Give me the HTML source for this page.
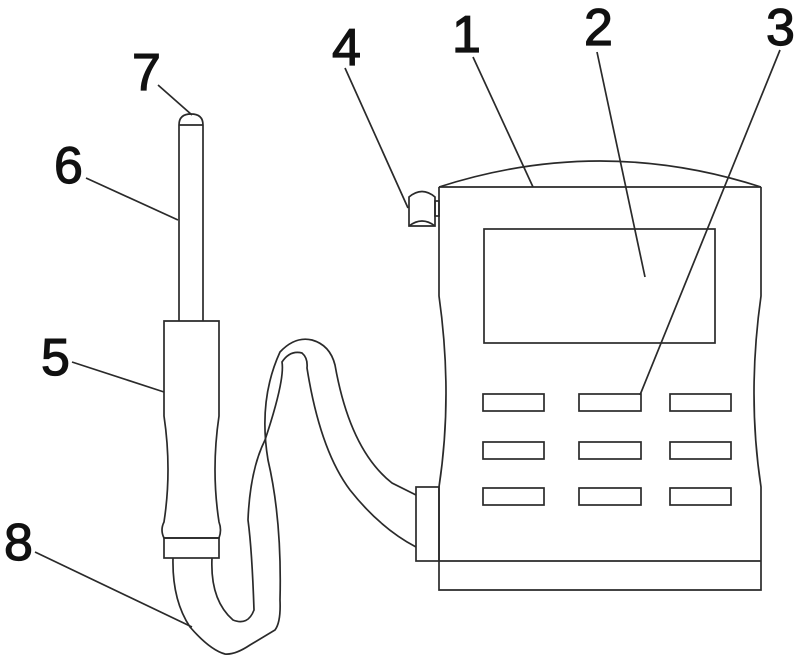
<!DOCTYPE html>
<html><head><meta charset="utf-8"><style>
html,body{margin:0;padding:0;background:#fff;}
svg{display:block;}
text{font-family:"Liberation Sans",sans-serif;font-size:52px;fill:#111;stroke:#111;stroke-width:1.2px;}
</style></head><body>
<svg width="800" height="661" viewBox="0 0 800 661" xmlns="http://www.w3.org/2000/svg">
<g fill="none" stroke="#2a2a2a" stroke-width="1.7">
<line x1="158" y1="85" x2="192" y2="115"/>
<line x1="86" y1="178" x2="178" y2="220"/>
<line x1="72" y1="362" x2="164" y2="392"/>
<line x1="35" y1="552" x2="192" y2="627"/>
<line x1="345" y1="68" x2="408" y2="208"/>
<line x1="473" y1="57" x2="533" y2="187"/>
<line x1="597" y1="52" x2="645" y2="277"/>
<line x1="780" y1="50" x2="640" y2="395"/>
<path d="M179 125 Q179 114 191 114 Q203 114 203 125"/>
<line x1="179" y1="125" x2="203" y2="125"/>
<line x1="179" y1="125" x2="179" y2="321"/>
<line x1="203" y1="125" x2="203" y2="321"/>
<path d="M164 321 H219 V416 Q211 470 219 522 Q222 530 219 538 H164 Q160 530 164 522 Q172 470 164 416 Z"/>
<rect x="164" y="538" width="55" height="20"/>
<path d="M173 558 Q172 600 190 627 Q210 650 225 654 Q235 655 250 645 L275 630 Q281 622 280 600 Q282 520 268 460 Q258 400 280 352 Q295 336 312 340 Q330 345 335 365 Q350 450 392 483 L416 495"/>
<path d="M212 558 Q210 600 233 620 Q248 626 254 610 Q252 550 248 520 Q250 470 265 440 Q285 380 282 362 Q290 350 302 353 Q308 358 307 368 Q320 450 350 490 Q380 528 416 547"/>
<path d="M439 187 Q600 135 761 187"/>
<line x1="439" y1="187" x2="761" y2="187"/>
<path d="M439 187 V296 Q453 395 439 487 V590 H761 V487 Q747 395 761 296 V187"/>
<line x1="439" y1="561" x2="761" y2="561"/>
<rect x="416" y="487" width="23" height="74"/>
<rect x="484" y="229" width="231" height="114"/>
<rect x="483" y="394" width="61" height="17"/>
<rect x="579" y="394" width="62" height="17"/>
<rect x="670" y="394" width="61" height="17"/>
<rect x="483" y="442" width="61" height="17"/>
<rect x="579" y="442" width="62" height="17"/>
<rect x="670" y="442" width="61" height="17"/>
<rect x="483" y="488" width="61" height="17"/>
<rect x="579" y="488" width="62" height="17"/>
<rect x="670" y="488" width="61" height="17"/>
<path d="M409 197 Q422 186 435 197 V226 H409 Z"/>
<path d="M409 226 Q422 216 435 226"/>
<rect x="435" y="201" width="4" height="15"/>
</g>
<text x="132" y="90">7</text>
<text x="54" y="183">6</text>
<text x="41" y="375">5</text>
<text x="4" y="560">8</text>
<text x="332" y="65">4</text>
<text x="452" y="52">1</text>
<text x="584" y="45">2</text>
<text x="766" y="45">3</text>
</svg>
</body></html>
